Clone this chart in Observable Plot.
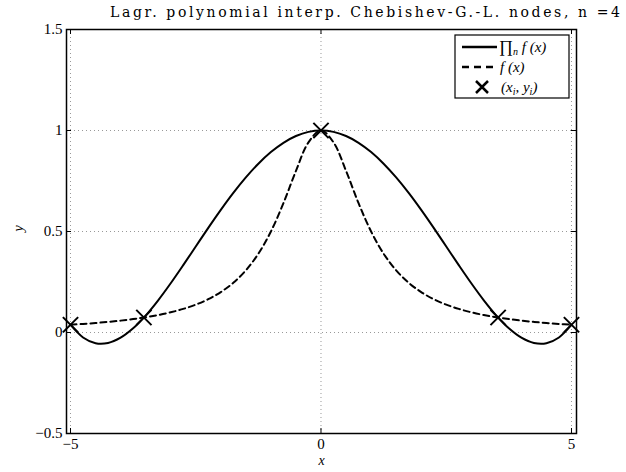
<!DOCTYPE html>
<html><head><meta charset="utf-8">
<script src="https://cdn.jsdelivr.net/npm/d3@7"></script>
<script src="https://cdn.jsdelivr.net/npm/@observablehq/plot@0.6"></script>
<style>body{margin:0;background:#fff}</style>
</head><body><div id="chart"></div>
<script>
const xs = [-5,-4.75,-4.5,-4.25,-4,-3.75,-3.5,-3.25,-3,-2.75,-2.5,-2.25,-2,-1.75,-1.5,-1.25,-1,-0.75,-0.5,-0.25,0,0.25,0.5,0.75,1,1.25,1.5,1.75,2,2.25,2.5,2.75,3,3.25,3.5,3.75,4,4.25,4.5,4.75,5];
const interpY = [0.0385,-0.0245,-0.0529,-0.0517,-0.0256,0.0209,0.0839,0.1593,0.2436,0.3334,0.4258,0.5177,0.6068,0.6908,0.7676,0.8356,0.8932,0.9392,0.9728,0.9932,1,0.9932,0.9728,0.9392,0.8932,0.8356,0.7676,0.6908,0.6068,0.5177,0.4258,0.3334,0.2436,0.1593,0.0839,0.0209,-0.0256,-0.0517,-0.0529,-0.0245,0.0385];
const funcY = [0.0385,0.0424,0.0471,0.0525,0.0588,0.0664,0.0755,0.0865,0.1,0.1168,0.1379,0.1649,0.2,0.2462,0.3077,0.3902,0.5,0.64,0.8,0.9412,1,0.9412,0.8,0.64,0.5,0.3902,0.3077,0.2462,0.2,0.1649,0.1379,0.1168,0.1,0.0865,0.0755,0.0664,0.0588,0.0525,0.0471,0.0424,0.0385];
const nodeX = [-5,-3.5355,0,3.5355,5];
const nodeY = [0.0385,0.0741,1,0.0741,0.0385];
const xTicks = [-5,0,5];
const yTicks = [-0.5,0,0.5,1,1.5];
const titleText = "Lagr. polynomial interp. Chebishev-G.-L. nodes, n =4";

const rows = xs.map((x,i)=>({x, p: interpY[i], f: funcY[i]}));
const nodes = nodeX.map((x,i)=>({x, y: nodeY[i]}));
const serif = "'Liberation Serif', 'DejaVu Serif', serif";
const fmt = d3.format("");

const svg = Plot.plot({
  width: 626, height: 472,
  marginLeft: 66, marginRight: 50, marginTop: 29, marginBottom: 39,
  style: {fontFamily: serif, background: "white"},
  x: {domain: [-5.08, 5.1], label: null},
  y: {domain: [-0.5, 1.5], label: null},
  marks: [
    Plot.gridX(xTicks, {stroke: "#999", strokeOpacity: 1, strokeDasharray: "1,3"}),
    Plot.gridY(yTicks, {stroke: "#999", strokeOpacity: 1, strokeDasharray: "1,3"}),
    Plot.tickX(xTicks, {insetTop: 399, stroke: "black"}),
    Plot.tickX(xTicks, {insetBottom: 399, stroke: "black"}),
    Plot.tickY(yTicks, {insetRight: 505, stroke: "black"}),
    Plot.tickY(yTicks, {insetLeft: 505, stroke: "black"}),
    Plot.line(rows, {x: "x", y: "p", stroke: "black", strokeWidth: 2, curve: "catmull-rom"}),
    Plot.line(rows, {x: "x", y: "f", stroke: "black", strokeWidth: 2, strokeDasharray: "6,4", curve: "catmull-rom"}),
    Plot.dot(nodes, {x: "x", y: "y", symbol: "times", r: 7, stroke: "black", strokeWidth: 2}),
    Plot.frame({stroke: "black", strokeWidth: 1.5}),
    Plot.axisX(xTicks, {tickSize: 0, tickPadding: 5, fontSize: 15, label: null, fill: "black", tickFormat: fmt}),
    Plot.axisY(yTicks, {tickSize: 0, tickPadding: 4, fontSize: 15, label: null, fill: "black", tickFormat: fmt}),
    Plot.text(["x"], {frameAnchor: "bottom", dy: 31, fontStyle: "italic", fontSize: 14}),
    Plot.text(["y"], {frameAnchor: "left", dx: -48, rotate: -90, fontStyle: "italic", fontSize: 14})
  ]
});
document.getElementById("chart").appendChild(svg);

const s = d3.select(svg);
s.append("text").attr("x", 110).attr("y", 17).attr("text-anchor", "start")
  .attr("textLength", 510).attr("lengthAdjust", "spacing")
  .style("font-family", "'DejaVu Serif', serif").style("font-size", "14px")
  .attr("fill", "black").text(titleText);

const lg = s.append("g").attr("text-anchor", "start");
lg.append("rect").attr("x", 455).attr("y", 35).attr("width", 114).attr("height", 63)
  .attr("fill", "white").attr("stroke", "black").attr("stroke-width", 1.2);
lg.append("line").attr("x1", 462).attr("x2", 497).attr("y1", 47).attr("y2", 47)
  .attr("stroke", "black").attr("stroke-width", 2.5);
lg.append("line").attr("x1", 462).attr("x2", 497).attr("y1", 67).attr("y2", 67)
  .attr("stroke", "black").attr("stroke-width", 2.5).attr("stroke-dasharray", "7,5");
lg.append("path").attr("d", "M476,81L488,93M476,93L488,81")
  .attr("stroke", "black").attr("stroke-width", 2.5);
const t1 = lg.append("text").attr("x", 499).attr("y", 52).style("font-family", serif).style("font-size", "15px");
t1.append("tspan").style("font-size", "17px").text("∏");
t1.append("tspan").attr("dy", 3).style("font-size", "10px").style("font-style", "italic").text("n");
t1.append("tspan").attr("dy", -3).style("font-style", "italic").text(" f (x)");
lg.append("text").attr("x", 500).attr("y", 72).style("font-family", serif).style("font-size", "15px")
  .style("font-style", "italic").text("f (x)");
const t3 = lg.append("text").attr("x", 501).attr("y", 92).style("font-family", serif).style("font-size", "15px").style("font-style", "italic");
t3.append("tspan").text("(x");
t3.append("tspan").attr("dy", 3).style("font-size", "10px").text("i");
t3.append("tspan").attr("dy", -3).text(", y");
t3.append("tspan").attr("dy", 3).style("font-size", "10px").text("i");
t3.append("tspan").attr("dy", -3).text(")");
</script></body></html>
